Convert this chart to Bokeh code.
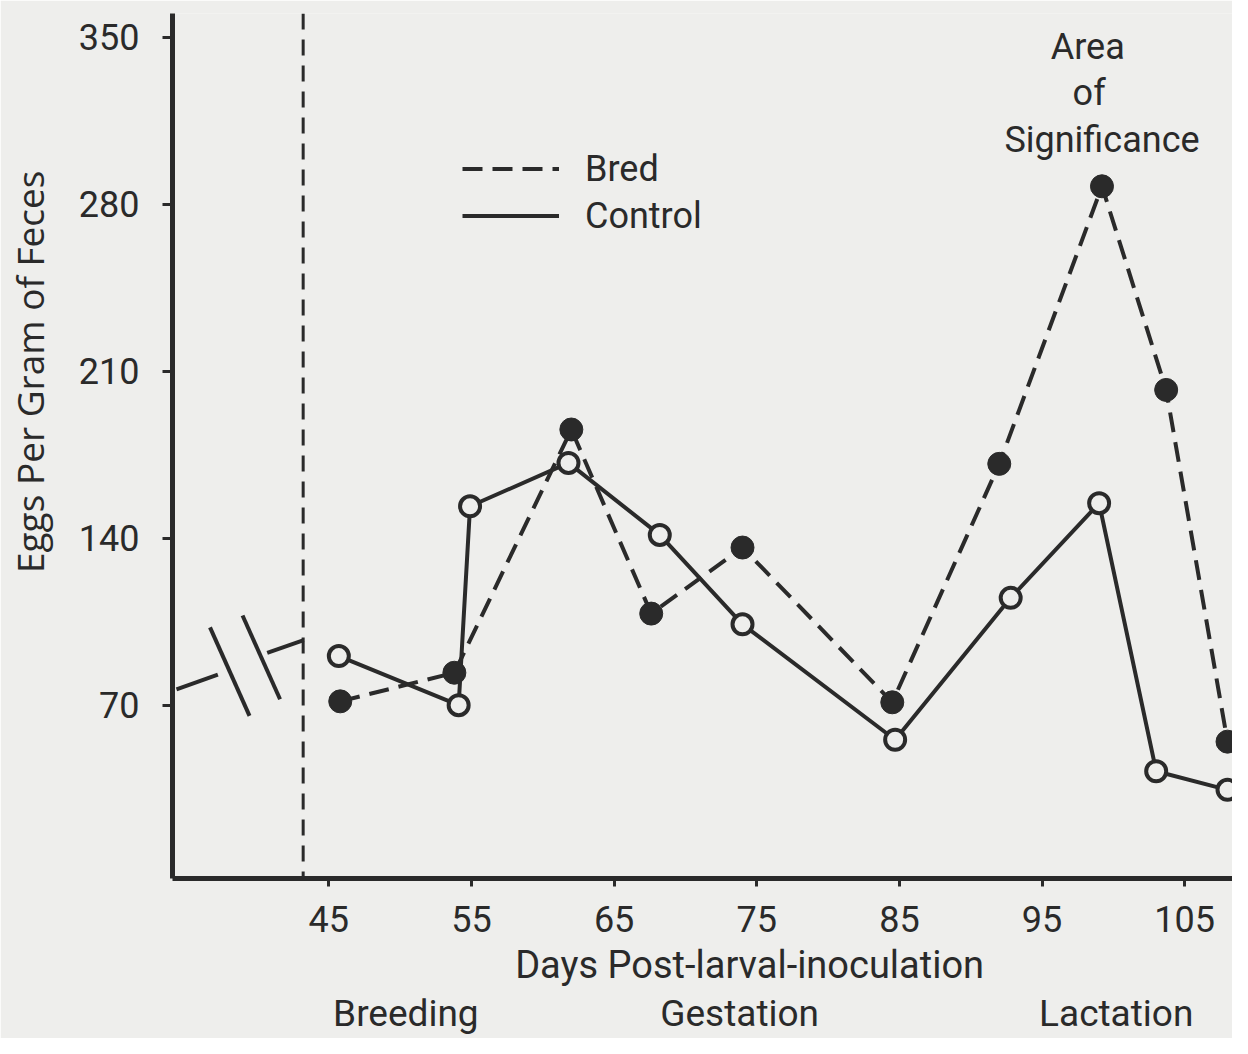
import math
from bokeh.plotting import figure
from bokeh.models import (Range1d, FixedTicker, Label, Legend, LegendItem, Span,
                          LinearAxis, AllLabels)
from bokeh.embed import file_html
from bokeh.resources import INLINE

# ---- data ----
days_bred = [45.8, 53.8, 62.0, 67.6, 74.0, 84.5, 92.0, 99.2, 103.7, 108.0]
eggs_bred = [71.6, 83.6, 185.6, 108.4, 136.1, 71.2, 171.2, 287.6, 202.2, 54.7]
days_control = [45.7, 54.1, 54.9, 61.8, 68.2, 74.0, 84.7, 92.8, 99.0, 103.0, 108.0]
eggs_control = [90.6, 70.0, 153.4, 171.6, 141.4, 103.9, 55.5, 115.0, 154.7, 42.3, 34.5]

x_ticks = [45, 55, 65, 75, 85, 95, 105]
y_ticks = [70, 140, 210, 280, 350]
breeding_day = 43.2

x_title = "Days Post-larval-inoculation"
x_title_day = 74.5
y_title = "Eggs Per Gram of Feces"
y_title_eggs = 209.8
phase_names = ["Breeding", "Gestation", "Lactation"]
phase_days = [50.4, 73.8, 100.2]

note_lines = ["Area", "of", "Significance"]
note_days = [98.2, 98.3, 99.2]
note_eggs = [346.0, 326.6, 307.2]

# axis-break decoration (data space)
break_x0 = [34.32, 40.68, 36.67, 38.95]
break_y0 = [76.6, 91.9, 102.6, 107.6]
break_x1 = [37.22, 43.24, 39.44, 41.58]
break_y1 = [82.8, 97.3, 65.5, 72.5]

BG = "#eeeeec"
INK = "#2a2a2a"
FONT = "Roboto"

X0, X1 = 34.04, 108.35
Y0, Y1 = -2.69, 360.06

p = figure(width=1232, height=1038, output_backend="svg", toolbar_location=None,
           title=None, x_range=Range1d(X0, X1), y_range=Range1d(Y0, Y1),
           min_border_left=172, min_border_right=0, min_border_top=13,
           min_border_bottom=160)
p.background_fill_color = BG
p.border_fill_color = BG
p.outline_line_color = None
p.grid.visible = False

for ax in (p.xaxis[0], p.yaxis[0]):
    ax.axis_line_width = 5
    ax.axis_line_color = INK
    ax.major_tick_line_width = 3
    ax.major_tick_line_color = INK
    ax.major_tick_in = 0
    ax.minor_tick_line_color = None
    ax.major_label_text_font = FONT
    ax.major_label_text_font_size = "36px"
    ax.major_label_text_color = INK
p.xaxis.ticker = FixedTicker(ticks=x_ticks)
p.yaxis.ticker = FixedTicker(ticks=y_ticks)
p.xaxis.major_tick_out = 8
p.yaxis.major_tick_out = 10
p.xaxis.major_label_standoff = 19
p.yaxis.major_label_standoff = 23


def text_axis(ticks, labels, size, standoff, font=FONT, orientation="horizontal"):
    ax = LinearAxis(ticker=FixedTicker(ticks=ticks),
                    major_label_overrides=dict(zip(ticks, labels)),
                    major_label_policy=AllLabels(),
                    axis_line_color=None, major_tick_line_color=None,
                    minor_tick_line_color=None, major_tick_out=0,
                    major_tick_in=0, major_label_standoff=standoff,
                    major_label_text_font=font,
                    major_label_text_font_size=size,
                    major_label_text_color=INK,
                    major_label_orientation=orientation)
    return ax


p.add_layout(text_axis([x_title_day], [x_title], "38px", 8), "below")
p.add_layout(text_axis(phase_days, phase_names, "37px", 2), "below")
p.add_layout(text_axis([y_title_eggs], [y_title], "37px", 20,
                       font="Open Sans", orientation="parallel"), "left")

# breeding divider
p.add_layout(Span(location=breeding_day, dimension="height", line_color=INK,
                  line_width=3, line_dash="16 10"))

# axis break marks
p.segment(x0=break_x0, y0=break_y0, x1=break_x1, y1=break_y1,
          line_color=INK, line_width=4)

bred_line = p.line(days_bred, eggs_bred, line_color=INK, line_width=4,
                   line_dash="20 10")
ctrl_line = p.line(days_control, eggs_control, line_color=INK, line_width=4)
p.scatter(days_bred, eggs_bred, size=23, fill_color=INK, line_color=INK,
          line_width=1)
p.scatter(days_control, eggs_control, size=20, fill_color=BG, line_color=INK,
          line_width=4)

legend = Legend(items=[LegendItem(label="Bred", renderers=[bred_line]),
                       LegendItem(label="Control", renderers=[ctrl_line])],
                location=(290, 639), orientation="vertical",
                glyph_width=97, glyph_height=47, label_height=47,
                label_standoff=26, spacing=0, padding=0, margin=0,
                label_text_font=FONT, label_text_font_size="36px",
                label_text_color=INK,
                background_fill_alpha=0, border_line_alpha=0)
p.add_layout(legend)

for txt, d, e in zip(note_lines, note_days, note_eggs):
    p.add_layout(Label(x=d, y=e, text=txt, text_font=FONT,
                       text_font_size="36px", text_color=INK,
                       text_align="center", text_baseline="alphabetic"))

open("out.html", "w").write(file_html(p, INLINE))
